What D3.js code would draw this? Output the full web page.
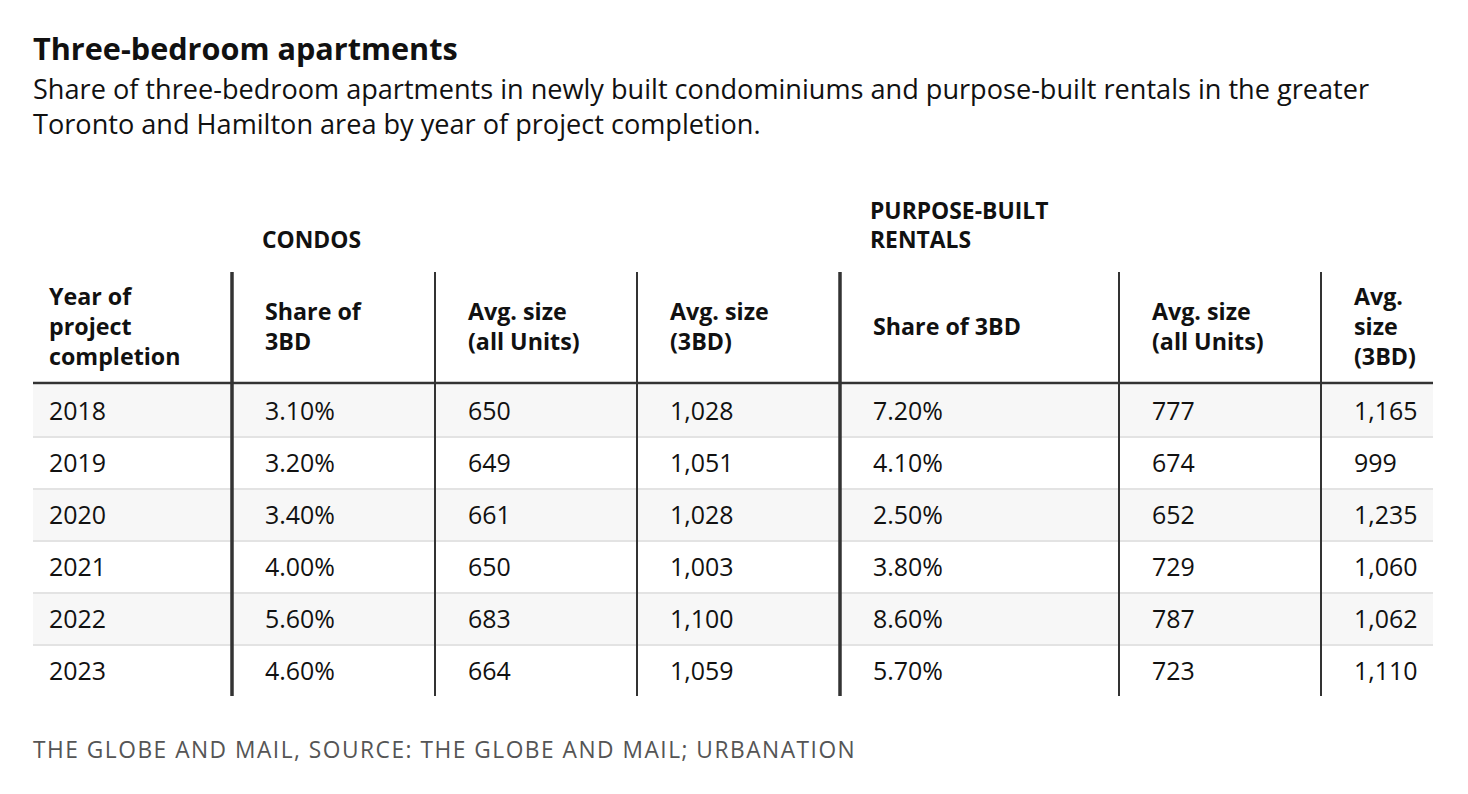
<!DOCTYPE html>
<html>
<head>
<meta charset="utf-8">
<script src="https://cdn.jsdelivr.net/npm/d3@7"></script>
<style>
  body { margin: 0; background: #fff; }
  text { font-family: "Open Sans", "Noto Sans", sans-serif; fill: #111; }
</style>
</head>
<body>
<script>
// data
var years        = ['2018', '2019', '2020', '2021', '2022', '2023'];
var condoShare   = ['3.10%', '3.20%', '3.40%', '4.00%', '5.60%', '4.60%'];
var condoAvgAll  = ['650', '649', '661', '650', '683', '664'];
var condoAvg3BD  = ['1,028', '1,051', '1,028', '1,003', '1,100', '1,059'];
var rentalShare  = ['7.20%', '4.10%', '2.50%', '3.80%', '8.60%', '5.70%'];
var rentalAvgAll = ['777', '674', '652', '729', '787', '723'];
var rentalAvg3BD = ['1,165', '999', '1,235', '1,060', '1,062', '1,110'];

var columnHeads = [
  ['Year of', 'project', 'completion'],
  ['Share of', '3BD'],
  ['Avg. size', '(all Units)'],
  ['Avg. size', '(3BD)'],
  ['Share of 3BD'],
  ['Avg. size', '(all Units)'],
  ['Avg.', 'size', '(3BD)']
];
var groupHeads = [
  {label: ['CONDOS'], col: 1},
  {label: ['PURPOSE-BUILT', 'RENTALS'], col: 4}
];

var columns = [years, condoShare, condoAvgAll, condoAvg3BD, rentalShare, rentalAvgAll, rentalAvg3BD];

// layout
var W = 1468, H = 794;
var edges = [33, 232, 435, 637, 840, 1119, 1321, 1433];
var thick = {1: true, 4: true};

var svg = d3.select('body').append('svg')
    .attr('width', W)
    .attr('height', H);

// find a font size that gives a sample string a given width
function fitSize(sample, target, weight) {
  var t = svg.append('text')
      .style('font-size', '20px')
      .style('font-weight', weight || 400)
      .text(sample);
  var w = t.node().getBBox().width;
  t.remove();
  return 20 * target / w;
}

var footText = 'THE GLOBE AND MAIL, SOURCE: THE GLOBE AND MAIL; URBANATION';

var titleSize  = fitSize('Three-bedroom apartments', 425, 700);
var subSize    = fitSize('Share of three-bedroom apartments in newly built condominiums and purpose-built rentals in the greater', 1337, 400);
var groupSize  = fitSize('PURPOSE-BUILT', 179, 700);
var headSize   = fitSize('Share of 3BD', 148, 700);
var cellSize   = fitSize('3.10%', 70, 400);
// footer is letter-spaced; fit the bare glyphs to what is left
var footSize   = fitSize(footText, 822 - 1.5 * (footText.length - 1), 400);

svg.append('text')
    .attr('x', 33).attr('y', 60)
    .style('font-size', titleSize + 'px').style('font-weight', 700)
    .text('Three-bedroom apartments');

var sub = ['Share of three-bedroom apartments in newly built condominiums and purpose-built rentals in the greater',
           'Toronto and Hamilton area by year of project completion.'];
svg.selectAll('.sub').data(sub).enter().append('text')
    .attr('class', 'sub')
    .attr('x', 33).attr('y', function(d, i) { return 99 + i * 35; })
    .style('font-size', subSize + 'px')
    .text(function(d) { return d; });

var y = d3.scaleBand()
    .domain(years)
    .range([385, 697]);

var rowLeft = edges[0], rowRight = edges[edges.length - 1];

// row backgrounds
svg.selectAll('.rowbg').data(years).enter().append('rect')
    .attr('x', rowLeft).attr('y', function(d) { return y(d); })
    .attr('width', rowRight - rowLeft).attr('height', y.bandwidth())
    .attr('fill', function(d, i) { return i % 2 === 0 ? '#f7f7f7' : '#fff'; });

// row separators
svg.selectAll('.sep').data(years.slice(1)).enter().append('line')
    .attr('x1', rowLeft).attr('x2', rowRight)
    .attr('y1', function(d) { return y(d); }).attr('y2', function(d) { return y(d); })
    .attr('stroke', '#e3e3e3').attr('stroke-width', 2);

// header rule
svg.append('line')
    .attr('x1', rowLeft).attr('x2', rowRight)
    .attr('y1', 383).attr('y2', 383)
    .attr('stroke', '#333').attr('stroke-width', 2.5);

// vertical rules
svg.selectAll('.vr').data(d3.range(1, 7)).enter().append('line')
    .attr('x1', function(c) { return edges[c]; }).attr('x2', function(c) { return edges[c]; })
    .attr('y1', 272).attr('y2', 696)
    .attr('stroke', '#333')
    .attr('stroke-width', function(c) { return thick[c] ? 3.5 : 2; });

// group headers
groupHeads.forEach(function(g) {
  var n = g.label.length;
  g.label.forEach(function(l, i) {
    svg.append('text')
      .attr('x', edges[g.col] + 30)
      .attr('y', 248 - (n - 1 - i) * 29)
      .style('font-size', groupSize + 'px').style('font-weight', 700)
      .text(l);
  });
});

// column headers
columnHeads.forEach(function(lines, c) {
  var n = lines.length;
  var mid = 327;
  lines.forEach(function(l, i) {
    svg.append('text')
      .attr('x', edges[c] + (c === 0 ? 16 : 33))
      .attr('y', mid + (i - (n - 1) / 2) * 30)
      .attr('dy', '0.35em')
      .style('font-size', headSize + 'px').style('font-weight', 700)
      .text(l);
  });
});

// cells
columns.forEach(function(vals, c) {
  svg.selectAll('.cell' + c).data(vals).enter().append('text')
    .attr('x', edges[c] + (c === 0 ? 16 : 33))
    .attr('y', function(d, i) { return y(years[i]) + y.bandwidth() / 2; })
    .attr('dy', '0.35em')
    .style('font-size', cellSize + 'px')
    .text(function(d) { return d; });
});

svg.append('text')
    .attr('x', 33).attr('y', 758)
    .style('font-size', footSize + 'px').style('fill', '#555').style('letter-spacing', '1.5px')
    .text(footText);
</script>
</body>
</html>
